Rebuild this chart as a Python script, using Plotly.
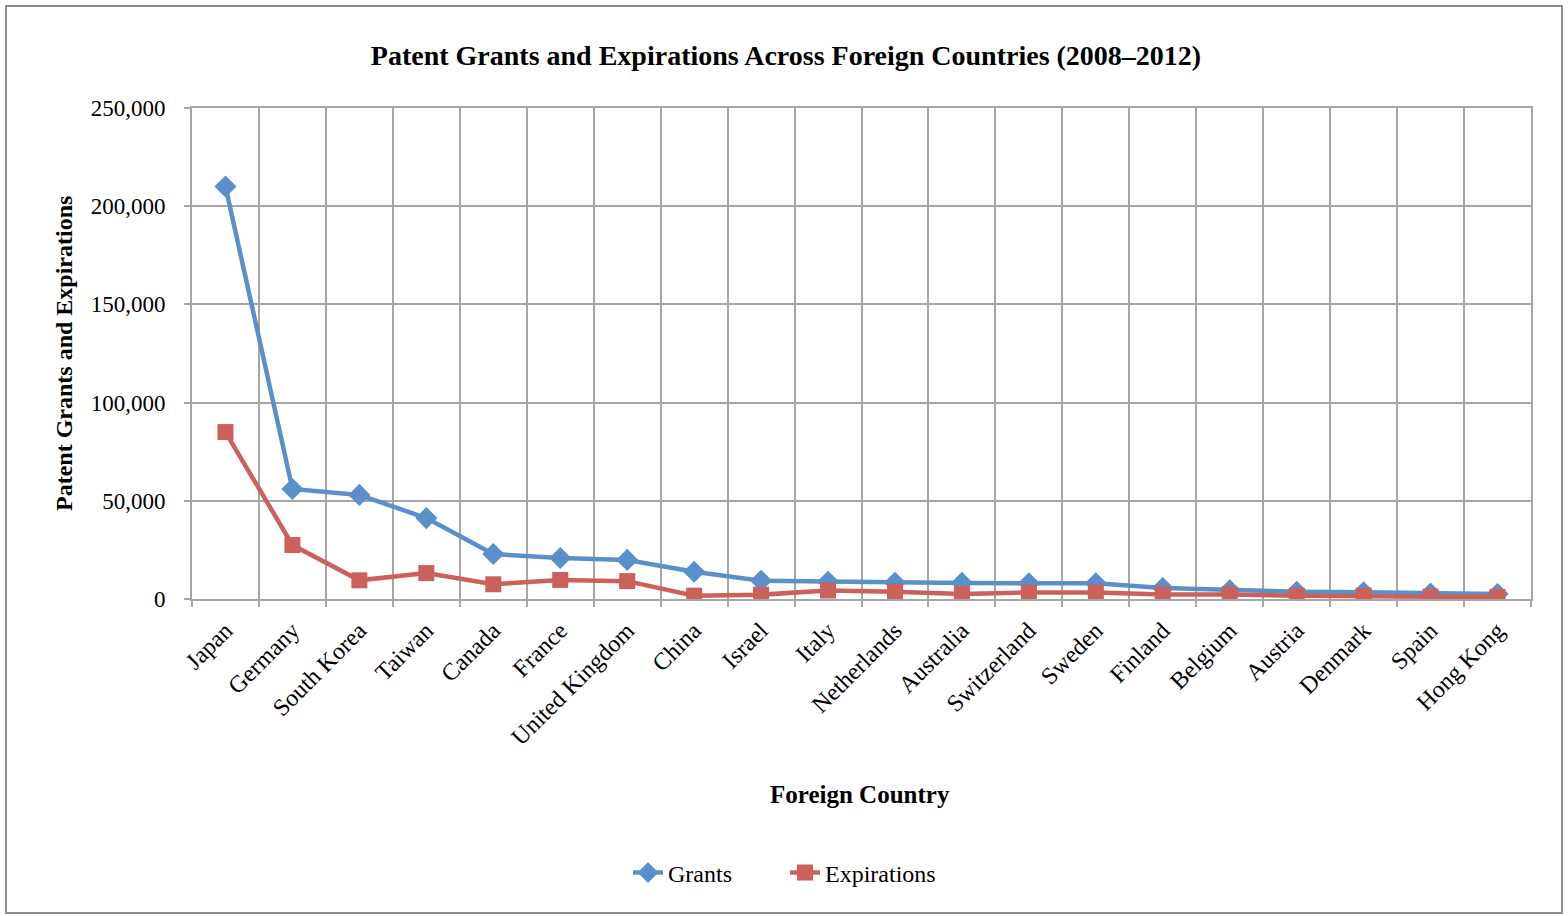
import plotly.graph_objects as go

countries = ["Japan", "Germany", "South Korea", "Taiwan", "Canada", "France",
             "United Kingdom", "China", "Israel", "Italy", "Netherlands", "Australia",
             "Switzerland", "Sweden", "Finland", "Belgium", "Austria", "Denmark",
             "Spain", "Hong Kong"]
grants = [210000, 56000, 53000, 41200, 22900, 20900, 19900, 13900, 9300, 8800,
          8300, 8200, 8000, 8000, 5600, 4400, 3700, 3400, 2800, 2500]
expirations = [85000, 27500, 9500, 13200, 7500, 9700, 9100, 1700, 2200, 4300,
               3700, 2500, 3300, 3300, 2300, 2300, 1700, 1700, 1200, 1100]

FONT = "Liberation Serif"
BLUE = "#5990C9"
RED = "#CC605A"
GRID = "#A6A6A6"

fig = go.Figure()
fig.add_trace(go.Scatter(x=countries, y=grants, name="Grants", mode="lines+markers",
                         line=dict(color=BLUE, width=4.5),
                         marker=dict(symbol="diamond", size=17, color=BLUE)))
fig.add_trace(go.Scatter(x=countries, y=expirations, name="Expirations", mode="lines+markers",
                         line=dict(color=RED, width=4.5),
                         marker=dict(symbol="square", size=16, color=RED)))

L, R, T, B = 192, 1531, 108, 599
W, H = 1568, 916
pw, ph = R - L, B - T

def px(x):
    return (x - L) / pw

def py(y):
    return (B - y) / ph

fig.update_layout(
    width=W, height=H,
    margin=dict(l=L, r=W - R, t=T, b=H - B),
    paper_bgcolor="white", plot_bgcolor="white",
    font=dict(family=FONT, size=20, color="black"),
    title=dict(text="<b>Patent Grants and Expirations Across Foreign Countries (2008–2012)</b>",
               xref="container", yref="container",
               x=786 / W, xanchor="center", y=1 - 55 / H, yanchor="middle",
               font=dict(size=28, family=FONT)),
    showlegend=True,
    legend=dict(orientation="h", x=px(785), xanchor="center", y=py(873), yanchor="middle",
                font=dict(size=24), bgcolor="rgba(0,0,0,0)", entrywidth=112,
                entrywidthmode="pixels"),
    xaxis=dict(type="category", tickson="boundaries", showgrid=True, gridcolor=GRID,
               gridwidth=2, showline=True, linecolor=GRID, linewidth=2, mirror=True,
               ticks="outside", ticklen=6, tickcolor=GRID, tickwidth=2,
               tickangle=-45, tickfont=dict(size=24), ticklabelstandoff=6,
               range=[-0.5, 19.5]),
    yaxis=dict(range=[0, 250000], dtick=50000, tickformat=",d", showgrid=True,
               gridcolor=GRID, gridwidth=2, showline=True, linecolor=GRID, linewidth=2,
               mirror=True, ticks="outside", ticklen=6, tickcolor=GRID, tickwidth=2,
               tickfont=dict(size=23), ticklabelstandoff=14, zeroline=False),
    annotations=[
        dict(text="<b>Patent Grants and Expirations</b>", xref="paper", yref="paper",
             x=px(64), y=py(354), textangle=-90, showarrow=False,
             font=dict(size=24), xanchor="center", yanchor="middle"),
        dict(text="<b>Foreign Country</b>", xref="paper", yref="paper",
             x=px(860), y=py(794), showarrow=False, font=dict(size=25),
             xanchor="center", yanchor="middle"),
    ],
    shapes=[dict(type="rect", xref="paper", yref="paper",
                 x0=px(6), x1=px(1562), y0=py(913), y1=py(6),
                 line=dict(color="#8C8C8C", width=2), layer="below")],
)

fig.write_html("out.html")
